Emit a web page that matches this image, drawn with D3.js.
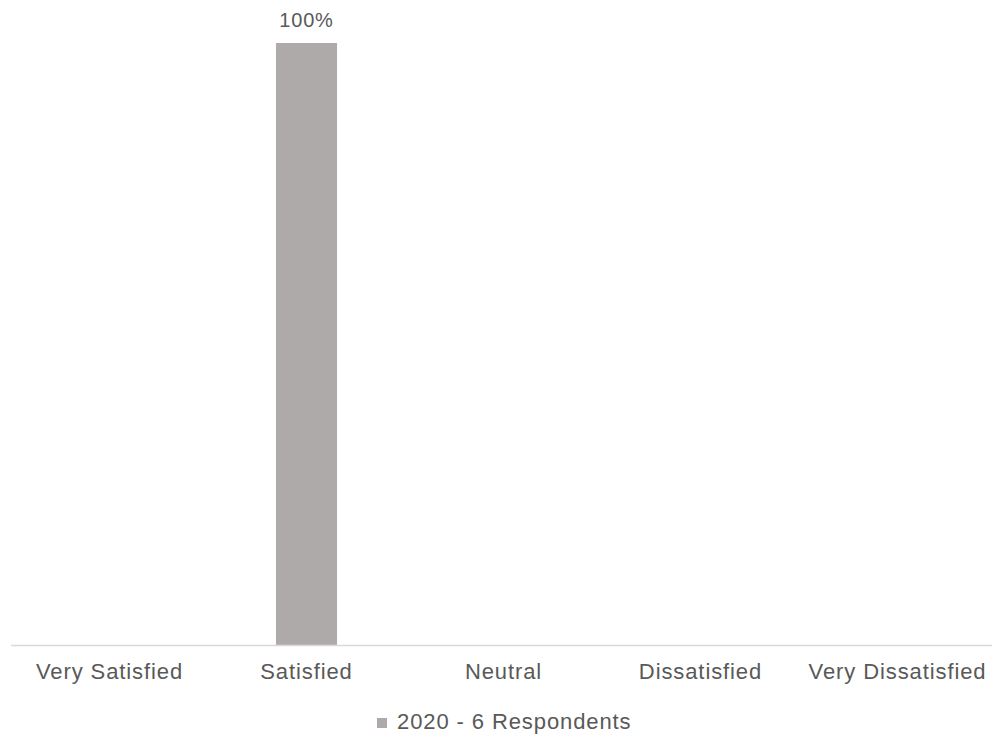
<!DOCTYPE html>
<html><head><meta charset="utf-8">
<script src="https://cdn.jsdelivr.net/npm/d3@7"></script>
<style>body{margin:0;background:#fff;} svg{display:block;}</style>
</head><body>
<svg id="chart" width="992" height="738"></svg>
<script>
const categories = ["Very Satisfied","Satisfied","Neutral","Dissatisfied","Very Dissatisfied"];
const values = [null, 100, null, null, null];
const seriesName = "2020 - 6 Respondents";

const svg = d3.select("#chart");
const font = "'Liberation Sans', Arial, Helvetica, sans-serif";
const x = d3.scaleBand().domain(categories).range([11, 996]).paddingInner(0.69).paddingOuter(0.345);
const y = d3.scaleLinear().domain([0, 100]).range([645, 43]);

const data = categories.map((c,i)=>({c, v: values[i]})).filter(d=>d.v!=null);

svg.selectAll("rect.bar").data(data)
  .enter().append("rect").attr("class","bar")
  .attr("x", d=>x(d.c)).attr("width", x.bandwidth())
  .attr("y", d=>y(d.v)).attr("height", d=>y(0)-y(d.v))
  .attr("fill", "#aeaaa9");

svg.selectAll("text.lbl").data(data)
  .enter().append("text").attr("class","lbl")
  .attr("x", d=>x(d.c)+x.bandwidth()/2).attr("y", d=>y(d.v)-16)
  .attr("text-anchor","middle").attr("font-family",font).attr("font-size",20)
  .attr("letter-spacing","0.8px").attr("fill","#595959")
  .text(d=>d.v+"%");

const xAxis = svg.append("g").attr("transform","translate(0,645.5)")
  .call(d3.axisBottom(x).tickSize(0).tickPadding(0));
xAxis.select(".domain").attr("stroke","#d9d9d9").attr("stroke-width",1.5).attr("d","M11,0H992");
xAxis.selectAll("text").attr("font-family",font).attr("font-size",22).attr("letter-spacing","0.9px")
  .attr("fill","#595959").attr("dy",null).attr("y",33);

const lg = svg.append("g");
lg.append("rect").attr("x",377).attr("y",718).attr("width",10).attr("height",10).attr("fill","#aeaaa9");
lg.append("text").attr("x",397).attr("y",729).attr("font-family",font).attr("font-size",22)
  .attr("letter-spacing","0.9px").attr("fill","#595959").text(seriesName);
</script>
</body></html>
